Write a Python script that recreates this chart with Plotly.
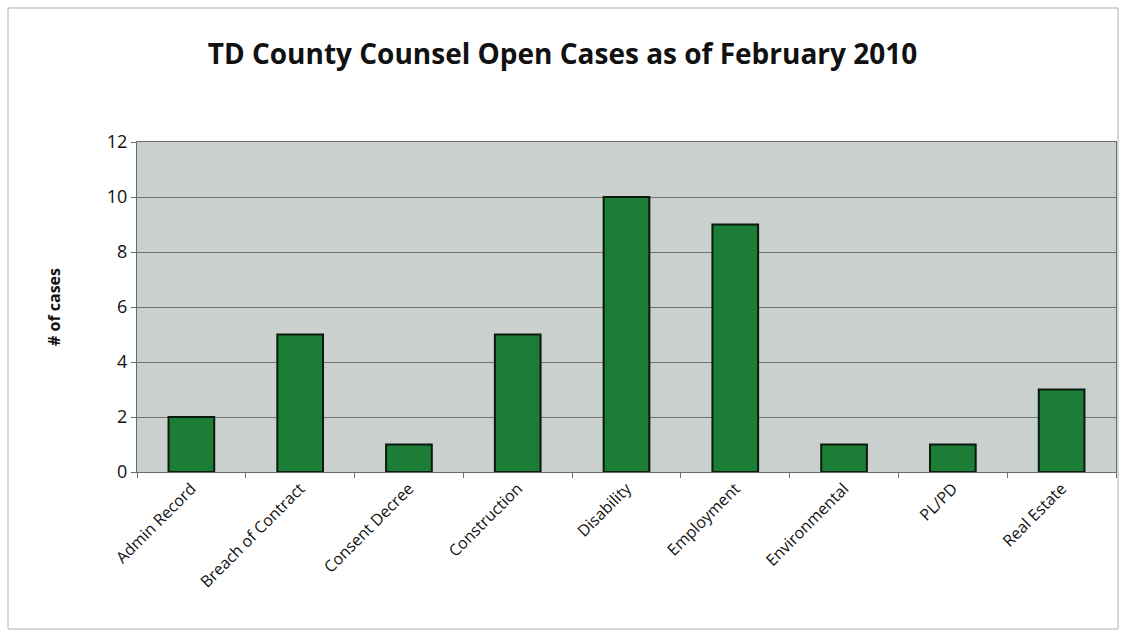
import plotly.graph_objects as go

categories = ["Admin Record", "Breach of Contract", "Consent Decree", "Construction",
              "Disability", "Employment", "Environmental", "PL/PD", "Real Estate"]
cases = [2, 5, 1, 5, 10, 9, 1, 1, 3]
y_ticks = [0, 2, 4, 6, 8, 10, 12]

fig = go.Figure()
fig.add_trace(go.Bar(
    x=categories, y=cases,
    marker=dict(color="#1b7d36", line=dict(color="#0a1a0c", width=2)),
))

fig.update_layout(
    width=1125, height=637,
    margin=dict(l=137, r=9, t=142, b=165),
    paper_bgcolor="white",
    plot_bgcolor="#c9d0cd",
    bargap=0.58,
    showlegend=False,
    title=dict(text="<b>TD County Counsel Open Cases as of February 2010</b>",
               x=0.5, xanchor="center", y=0.915, yanchor="middle",
               font=dict(family="Open Sans", size=28, color="#111")),
    font=dict(family="Open Sans", color="#111"),
    shapes=[dict(type="rect", xref="paper", yref="paper",
                 x0=-129/979, x1=1 + 2/979, y0=-157/330, y1=1 + 134/330,
                 line=dict(color="#b0b0b0", width=1), layer="below")],
)

fig.update_yaxes(
    range=[0, 12], tickvals=y_ticks, showgrid=True, gridcolor="#6f7471", gridwidth=1,
    showline=True, linecolor="#6b6b6b", linewidth=1, mirror=True,
    ticks="outside", ticklen=5, tickcolor="#6b6b6b",
    tickfont=dict(size=18, color="#111"),
    title=dict(text="<b># of cases</b>", font=dict(size=16, color="#111"), standoff=42),
    zeroline=False,
)
fig.update_xaxes(
    tickangle=-45, tickfont=dict(size=16, color="#111"),
    showline=True, linecolor="#6b6b6b", linewidth=1, mirror=True,
    ticks="outside", ticklen=5, tickcolor="#6b6b6b", tickson="boundaries",
)

fig.write_html("out.html")
